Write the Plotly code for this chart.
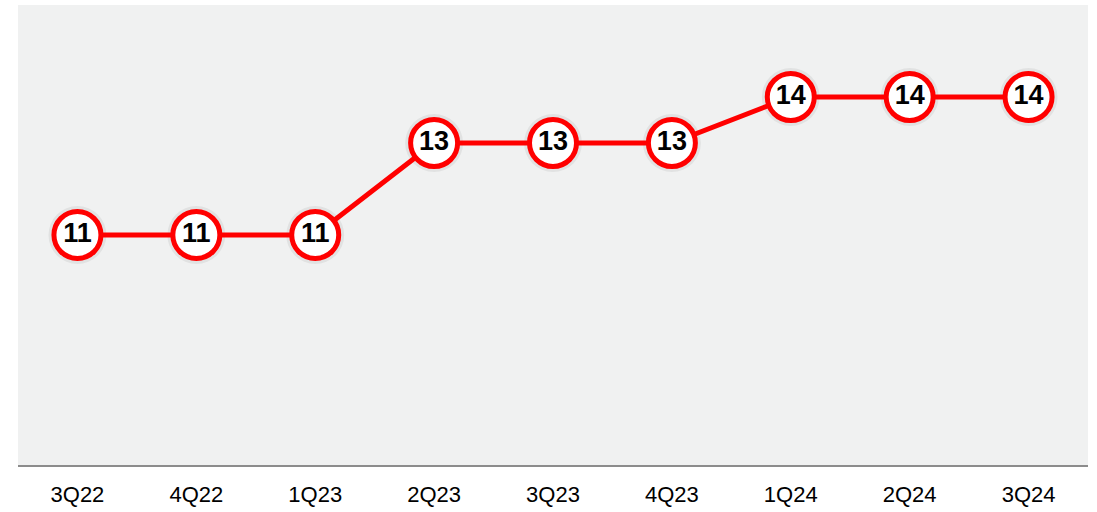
import plotly.graph_objects as go

quarters = ["3Q22", "4Q22", "1Q23", "2Q23", "3Q23", "4Q23", "1Q24", "2Q24", "3Q24"]
values = [11, 11, 11, 13, 13, 13, 14, 14, 14]

RED = "#ff0000"

fig = go.Figure()

# soft shadow behind each marker
fig.add_trace(go.Scatter(
    x=quarters, y=values, mode="markers",
    marker=dict(size=58, color="rgba(0,0,0,0.06)", line=dict(width=0)),
    hoverinfo="skip", showlegend=False,
))

fig.add_trace(go.Scatter(
    x=quarters, y=values,
    mode="lines+markers+text",
    line=dict(color=RED, width=5),
    marker=dict(size=47, color="white", line=dict(color=RED, width=5)),
    text=[f"<b>{v}</b>" for v in values],
    textposition="middle center",
    textfont=dict(family="Liberation Sans, Arial, sans-serif", size=27, color="black"),
    showlegend=False,
))

fig.update_layout(
    width=1097, height=512,
    margin=dict(l=18, r=9, t=5, b=41),
    paper_bgcolor="white",
    plot_bgcolor="#f0f1f1",
    xaxis=dict(
        range=[-0.5, 8.5],
        showgrid=False, zeroline=False,
        showline=True, linecolor="#8c8c8c", linewidth=2,
        ticks="", tickfont=dict(family="Liberation Sans, Arial, sans-serif", size=22, color="black"),
        ticklabelstandoff=9,
    ),
    yaxis=dict(range=[6, 16], visible=False),
)

fig.write_html("out.html")
